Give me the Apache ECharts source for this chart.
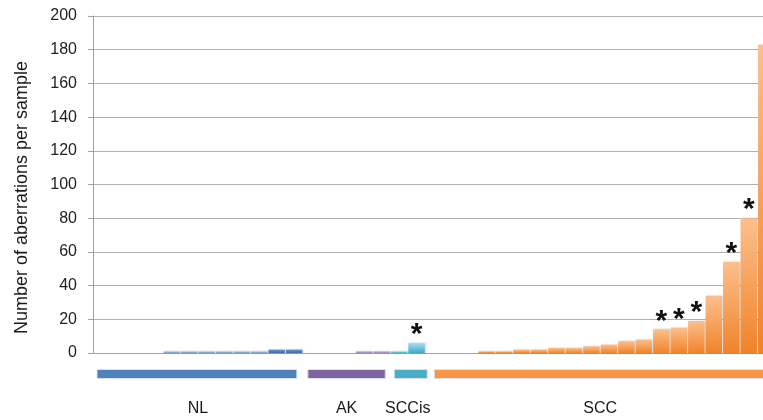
<!DOCTYPE html>
<html>
<head>
<meta charset="utf-8">
<script src="https://cdn.jsdelivr.net/npm/echarts@6/dist/echarts.min.js"></script>
<style>
  html, body { margin: 0; padding: 0; background: #ffffff; }
  #chart { width: 763px; height: 420px; }
</style>
</head>
<body>
<div id="chart"></div>
<script>
// Aberrations per sample, grouped by lesion type (samples sorted within each group)
const groupNames = ['NL', 'AK', 'SCCis', 'SCC'];
const nlValues = [0, 0, 0, 0, 1, 1, 1, 1, 1, 1, 2, 2];
const akValues = [0, 0, 0, 1, 1];
const sccisValues = [1, 6];
const sccValues = [0, 0, 0, 1, 1, 2, 2, 3, 3, 4, 5, 7, 8, 14, 15, 19, 34, 54, 80, 183];
// positions (within each group) of samples flagged with an asterisk
const nlStarred = [];
const akStarred = [];
const sccisStarred = [1];
const sccStarred = [13, 14, 15, 17, 18];
const yTicks = [0, 20, 40, 60, 80, 100, 120, 140, 160, 180, 200];

const groups = [
  { name: groupNames[0], values: nlValues, starred: nlStarred },
  { name: groupNames[1], values: akValues, starred: akStarred },
  { name: groupNames[2], values: sccisValues, starred: sccisStarred },
  { name: groupNames[3], values: sccValues, starred: sccStarred }
];

// colours: bar gradient (top, bottom), group strip, and strip insets [left, right] in px
const palette = {
  NL:    { top: '#b4cbef', bottom: '#6f98d6', strip: '#4f81bd', inset: [4, 6], dark: ['#6d93cf', '#3a69ad'] },
  AK:    { top: '#c3b3de', bottom: '#9a83c2', strip: '#8064a2', inset: [5, 5] },
  SCCis: { top: '#a9e0f2', bottom: '#3ea8ca', strip: '#4bacc6', inset: [4, -2] },
  SCC:   { top: '#fdbf8c', bottom: '#f0832a', strip: '#f79646', inset: [9, 0] }
};

function grad(top, bottom) {
  return new echarts.graphic.LinearGradient(0, 0, 0, 1, [
    { offset: 0, color: top },
    { offset: 1, color: bottom }
  ]);
}

const categories = [];
const barData = [];
const spans = [];
groups.forEach(function (g) {
  const start = categories.length;
  const pal = palette[g.name];
  g.values.forEach(function (v, i) {
    categories.push(g.name + '-' + (i + 1));
    let fill = grad(pal.top, pal.bottom);
    if (pal.dark && v >= 2) fill = grad(pal.dark[0], pal.dark[1]);
    barData.push({
      value: v,
      starred: g.starred.indexOf(i) >= 0,
      itemStyle: { color: fill }
    });
  });
  spans.push([start, categories.length - 1, 0]);
});

const chart = echarts.init(document.getElementById('chart'), null, { renderer: 'canvas' });

chart.setOption({
  animation: false,
  backgroundColor: '#ffffff',
  textStyle: { fontFamily: '"Liberation Sans", Arial, sans-serif' },
  grid: {
    left: 93, top: 16, width: 682, bottom: 67,
    containLabel: false,
    outerBoundsMode: 'none'
  },
  xAxis: {
    type: 'category',
    data: categories,
    axisLine: { show: true, onZero: true, lineStyle: { color: '#a0a0a0', width: 1 } },
    axisTick: { show: false },
    axisLabel: { show: false },
    splitLine: { show: false }
  },
  yAxis: {
    type: 'value',
    min: yTicks[0],
    max: yTicks[yTicks.length - 1],
    interval: yTicks[1] - yTicks[0],
    name: 'Number of aberrations per sample',
    nameLocation: 'middle',
    nameGap: 62,
    nameTextStyle: { fontSize: 18, color: '#1a1a1a', padding: [0, 26, 0, 0] },
    axisLine: { show: true, lineStyle: { color: '#a0a0a0', width: 1 } },
    axisTick: { show: true, inside: false, length: 5, lineStyle: { color: '#a0a0a0' } },
    axisLabel: { fontSize: 16, color: '#222222', margin: 16 },
    splitLine: { show: true, lineStyle: { color: '#b0b0b0', width: 1 } }
  },
  series: [
    {
      type: 'bar',
      data: barData,
      barCategoryGap: '6%',
      itemStyle: {
        shadowColor: 'rgba(0,0,0,0.18)',
        shadowBlur: 2,
        shadowOffsetX: 1
      },
      label: {
        show: true,
        position: 'top',
        distance: -7,
        fontSize: 30,
        fontWeight: 'bold',
        color: '#111111',
        formatter: function (p) { return p.data.starred ? '*' : ''; }
      }
    },
    {
      // coloured strips and names marking each sample group
      type: 'custom',
      clip: false,
      silent: true,
      data: spans,
      encode: { x: [0, 1], y: 2 },
      renderItem: function (params, api) {
        const name = groupNames[params.dataIndex];
        const inset = palette[name].inset;
        const band = api.size([1, 0])[0];
        const p0 = api.coord([api.value(0), 0]);
        const p1 = api.coord([api.value(1), 0]);
        const x0 = p0[0] - band / 2 + inset[0];
        const x1 = p1[0] + band / 2 - inset[1];
        const y = p0[1] + 16.5;
        return {
          type: 'group',
          children: [
            {
              type: 'rect',
              shape: { x: x0, y: y, width: x1 - x0, height: 9 },
              style: { fill: palette[name].strip, stroke: 'rgba(220,230,245,0.9)', lineWidth: 1 }
            },
            {
              type: 'text',
              style: {
                x: (p0[0] + p1[0]) / 2,
                y: p0[1] + 56,
                text: name,
                fill: '#1a1a1a',
                font: '16px "Liberation Sans", Arial, sans-serif',
                align: 'center',
                verticalAlign: 'middle'
              }
            }
          ]
        };
      }
    }
  ]
});
</script>
</body>
</html>
